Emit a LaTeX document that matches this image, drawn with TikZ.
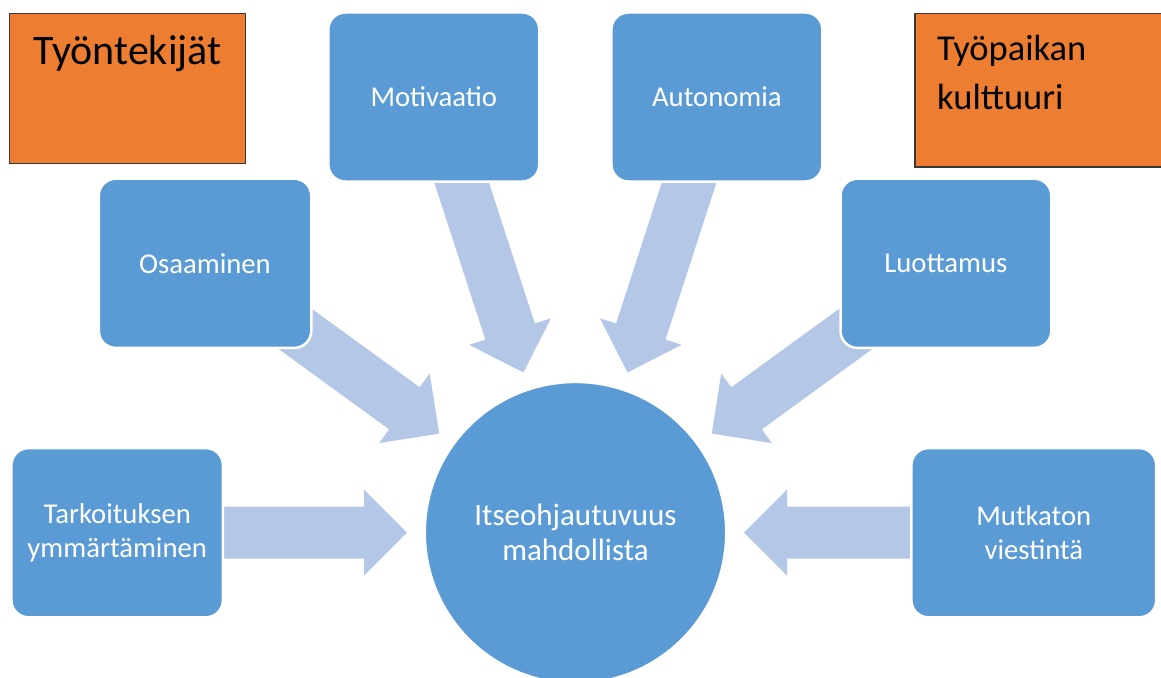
\documentclass[tikz,border=0pt]{standalone}
\usepackage{fontspec}
\setmainfont{Carlito}
\usetikzlibrary{calc}

\definecolor{boxblue}{HTML}{5B9BD5}
\definecolor{arrowblue}{HTML}{B4C7E7}
\definecolor{tagorange}{HTML}{ED7D31}

\pgfdeclarelayer{paper}
\pgfdeclarelayer{arrows}
\pgfsetlayers{paper,arrows,main}

\tikzset{
  bluebox/.style={rectangle, rounded corners=17pt, fill=boxblue, draw=white,
    line width=2.5pt, text=white, align=center, inner sep=0pt,
    font=\fontsize{28.7}{33.5}\selectfont},
  hubcircle/.style={circle, fill=boxblue, draw=white, line width=2pt,
    minimum size=301pt, inner sep=0pt, text=white, align=center,
    font=\fontsize{31}{35}\selectfont},
  tagbox/.style={rectangle, fill=tagorange, draw=black!78, line width=1.2pt,
    inner sep=0pt},
  tagtext/.style={text=black, inner sep=0pt},
  arrowfill/.style={fill=arrowblue, draw=none}
}

% Block arrow from the centre of a box towards the hub circle
\newcommand{\hubarrow}[1]{%
  \coordinate (#1-h) at ($(hub.center)!211.5pt!(#1.center)$);
  \coordinate (#1-t) at ($(hub.center)!168.5pt!(#1.center)$);
  \fill[arrowfill]
    ($(#1.center)!26pt!90:(hub.center)$) --
    ($(#1-h)!26pt!90:(hub.center)$) --
    ($(#1-h)!43pt!90:(hub.center)$) --
    (#1-t) --
    ($(#1-h)!43pt!-90:(hub.center)$) --
    ($(#1-h)!26pt!-90:(hub.center)$) --
    ($(#1.center)!26pt!-90:(hub.center)$) -- cycle;
}

\begin{document}
\begin{tikzpicture}[x=1pt, y=-1pt]
  \clip (0,0) rectangle (1161,677);
  \begin{pgfonlayer}{paper}
    \fill[white] (0,0) rectangle (1161,677);
  \end{pgfonlayer}

  % corner tags
  \node[tagbox, minimum width=236pt, minimum height=150pt] (staff) at (127.5,88.5) {};
  \node[tagtext, anchor=base, font=\fontsize{42}{50}\selectfont] (staff-text) at (127.5,65) {Työntekijät};
  \node[tagbox, minimum width=255pt, minimum height=153.5pt] (culture) at (1042.5,90.25) {};
  \node[tagtext, anchor=base west, align=left, font=\fontsize{36.5}{49}\selectfont] (culture-text) at (937,109) {Työpaikan\\kulttuuri};

  % hub
  \node[hubcircle] (hub) at (575.5,532.7) {Itseohjautuvuus\\mahdollista};

  % surrounding boxes
  \node[bluebox, minimum width=211pt, minimum height=169pt] (mot) at (433.8,97) {Motivaatio};
  \node[bluebox, minimum width=211pt, minimum height=169pt] (aut) at (716.9,97) {Autonomia};
  \node[bluebox, minimum width=212.5pt, minimum height=169.2pt] (osa) at (205,263.3) {Osaaminen};
  \node[bluebox, minimum width=210.8pt, minimum height=169.2pt] (luo) at (945.9,263.3) {Luottamus};
  \node[bluebox, minimum width=211.5pt, minimum height=169.2pt] (tar) at (117.2,532.7) {Tarkoituksen\\ymmärtäminen};
  \node[bluebox, minimum width=244.8pt, minimum height=169.2pt] (mut) at (1033.8,532.7) {Mutkaton\\viestintä};

  % arrows run underneath the boxes
  \begin{pgfonlayer}{arrows}
    \hubarrow{mot}
    \hubarrow{aut}
    \hubarrow{osa}
    \hubarrow{luo}
    \hubarrow{tar}
    \hubarrow{mut}
  \end{pgfonlayer}
\end{tikzpicture}
\end{document}
